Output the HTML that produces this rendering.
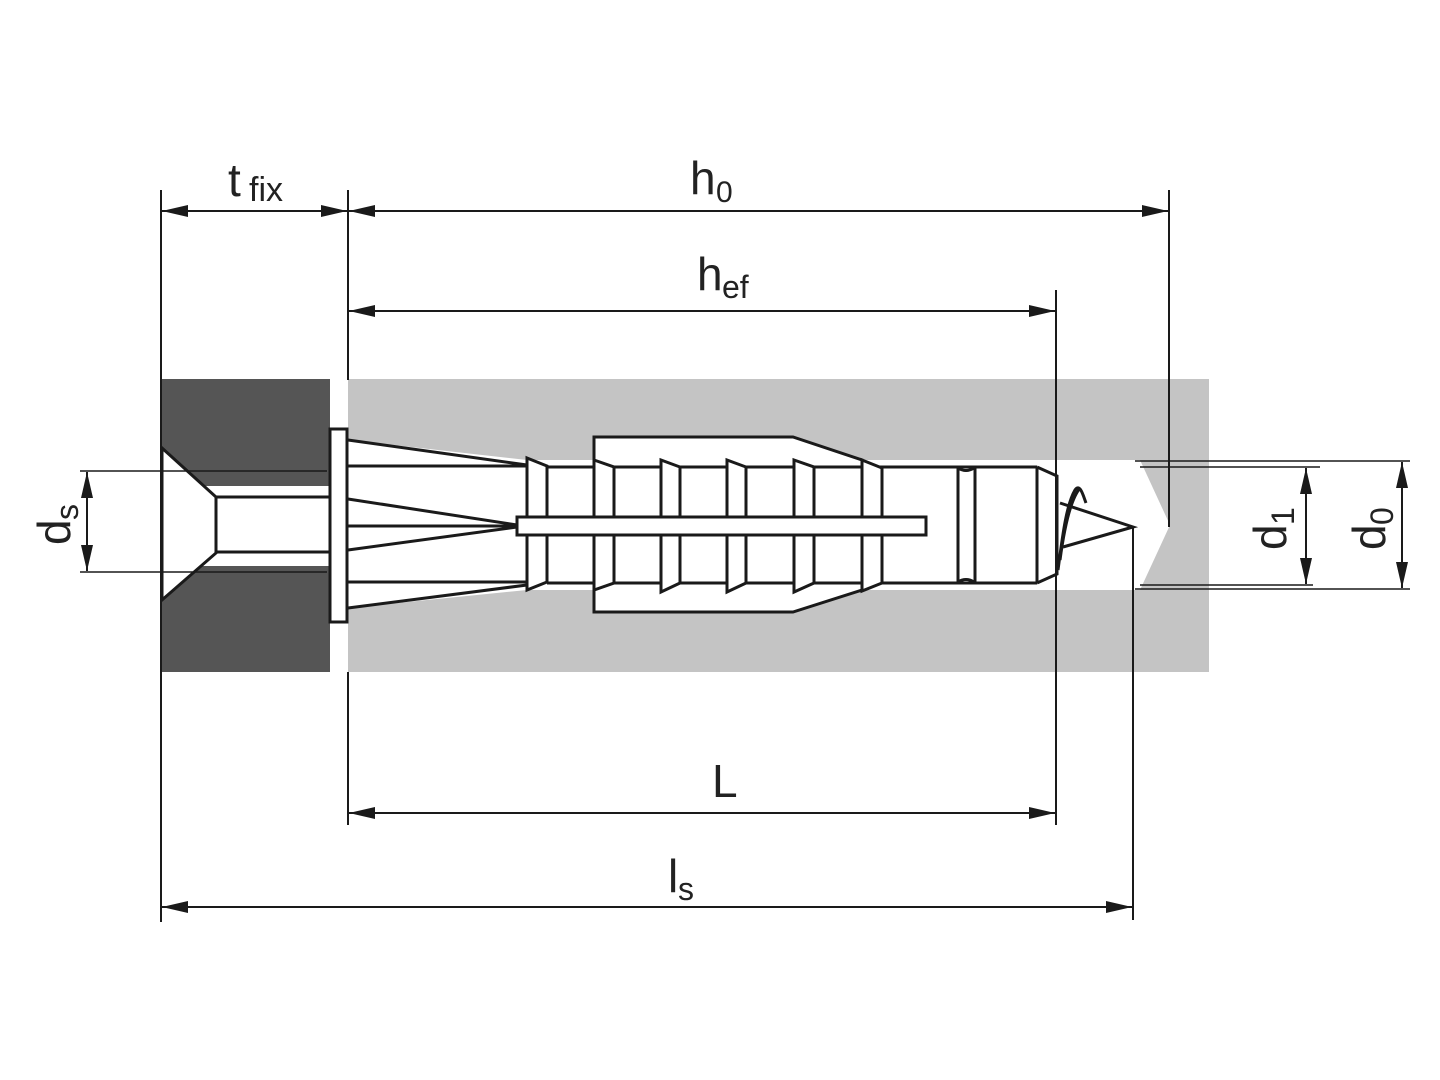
<!DOCTYPE html>
<html><head><meta charset="utf-8"><style>
html,body{margin:0;padding:0;background:#fff;}
svg{display:block}
text{font-family:"Liberation Sans Narrow","Liberation Sans",sans-serif;fill:#222}
</style></head><body>
<svg width="1440" height="1080" viewBox="0 0 1440 1080" xmlns="http://www.w3.org/2000/svg">
<defs>
<marker id="a" viewBox="0 0 26 12" refX="26" refY="6" markerWidth="26" markerHeight="12" markerUnits="userSpaceOnUse" orient="auto-start-reverse"><path d="M0,0 L26,6 L0,12 Z" fill="#1a1a1a"/></marker>
</defs>
<!-- blocks -->
<rect x="161" y="379" width="169" height="293" fill="#555"/>
<rect x="348" y="379" width="861" height="293" fill="#c4c4c4"/>
<!-- holes -->
<rect x="161" y="486" width="169" height="80" fill="#fff"/>
<polygon points="162,448 216,497 216,553 162,600" fill="#fff"/>
<polygon points="348,460 1140,460 1170,525 1140,590 348,590" fill="#fff"/>
<polygon points="348,440 527,460 527,590 348,608" fill="#fff"/>
<g fill="none" stroke="#1a1a1a" stroke-width="3">
<!-- screw head -->
<polygon points="162,448 216,497 216,553 162,600" fill="#fff"/>
<line x1="216" y1="497" x2="330" y2="497"/>
<line x1="216" y1="552" x2="330" y2="552"/>
<rect x="330" y="429" width="17" height="193" fill="#fff"/>
<!-- flares -->
<line x1="348" y1="440" x2="527" y2="465"/>
<line x1="348" y1="466" x2="527" y2="466"/>
<line x1="348" y1="499" x2="517" y2="525"/>
<line x1="348" y1="526" x2="517" y2="526"/>
<line x1="348" y1="550" x2="517" y2="527"/>
<line x1="348" y1="582" x2="527" y2="582"/>
<line x1="348" y1="608" x2="527" y2="585"/>
<!-- first segment -->
<polygon points="527,458 547,466 547,582 527,590" fill="#fff"/>
<!-- sleeve -->
<polygon points="594,437 793,437 862,460 862,590 793,612 594,612" fill="#fff"/>
<line x1="547" y1="467" x2="1037" y2="467"/>
<line x1="547" y1="583" x2="1037" y2="583"/>
<polygon points="594,460 614,467 614,583 594,590" fill="#fff"/>
<polygon points="661,460 680,467 680,583 661,592" fill="#fff"/>
<polygon points="727,460 746,467 746,583 727,592" fill="#fff"/>
<polygon points="794,460 814,467 814,583 794,592" fill="#fff"/>
<polygon points="862,460 882,468 882,583 862,591" fill="#fff"/>
<line x1="958" y1="467" x2="958" y2="583"/>
<path d="M958,468 q8,5 16,0 M958,582 q8,-5 16,0"/>
<line x1="975" y1="467" x2="975" y2="583"/>
<line x1="1037" y1="467" x2="1037" y2="583"/>
<polyline points="1037,467 1057,476 1057,574 1037,583"/>
<!-- rod -->
<rect x="517" y="517" width="409" height="18" fill="#fff"/>
<!-- tip -->
<polyline points="1060,503 1133,527 1063,547"/>
<path d="M1058,570 C1062,540 1066,505 1075,490 C1080,483 1083,495 1086,503"/>
<path d="M1060,560 C1064,530 1070,500 1080,488"/>
</g>
<!-- dimension lines -->
<g stroke="#1a1a1a" stroke-width="2" fill="none">
<line x1="161" y1="190" x2="161" y2="922"/>
<line x1="348" y1="190" x2="348" y2="380"/>
<line x1="348" y1="672" x2="348" y2="825"/>
<line x1="1056" y1="290" x2="1056" y2="825"/>
<line x1="1169" y1="190" x2="1169" y2="527"/>
<line x1="1133" y1="527" x2="1133" y2="920"/>
<line x1="80" y1="471" x2="327" y2="471" stroke-width="1.5"/>
<line x1="80" y1="572" x2="327" y2="572" stroke-width="1.5"/>
<line x1="1140" y1="467" x2="1320" y2="467" stroke-width="1.5"/>
<line x1="1140" y1="585" x2="1313" y2="585" stroke-width="1.5"/>
<line x1="1135" y1="461" x2="1410" y2="461" stroke-width="1.5"/>
<line x1="1135" y1="589" x2="1410" y2="589" stroke-width="1.5"/>
<line x1="162" y1="211" x2="347" y2="211" marker-start="url(#a)" marker-end="url(#a)"/>
<line x1="349" y1="211" x2="1168" y2="211" marker-start="url(#a)" marker-end="url(#a)"/>
<line x1="349" y1="311" x2="1055" y2="311" marker-start="url(#a)" marker-end="url(#a)"/>
<line x1="349" y1="813" x2="1055" y2="813" marker-start="url(#a)" marker-end="url(#a)"/>
<line x1="162" y1="907" x2="1132" y2="907" marker-start="url(#a)" marker-end="url(#a)"/>
<line x1="87" y1="472" x2="87" y2="571" marker-start="url(#a)" marker-end="url(#a)"/>
<line x1="1306" y1="468" x2="1306" y2="584" marker-start="url(#a)" marker-end="url(#a)"/>
<line x1="1402" y1="462" x2="1402" y2="588" marker-start="url(#a)" marker-end="url(#a)"/>
</g>
<!-- labels -->
<text x="228" y="196" font-size="46">t</text><text x="249" y="201" font-size="34">fix</text>
<text x="690" y="194" font-size="46">h</text><text x="716" y="202" font-size="30">0</text>
<text x="697" y="290" font-size="46">h</text><text x="722" y="298" font-size="32">ef</text>
<text x="712" y="797" font-size="46">L</text>
<text x="668" y="892" font-size="46">l</text><text x="678" y="900" font-size="32">s</text>
<g transform="translate(70,545) rotate(-90)"><text x="0" y="0" font-size="46">d</text><text x="25" y="8" font-size="32">s</text></g>
<g transform="translate(1286,550) rotate(-90)"><text x="0" y="0" font-size="46">d</text><text x="25" y="8" font-size="32">1</text></g>
<g transform="translate(1385,550) rotate(-90)"><text x="0" y="0" font-size="46">d</text><text x="25" y="8" font-size="32">0</text></g>
</svg>
</body></html>
